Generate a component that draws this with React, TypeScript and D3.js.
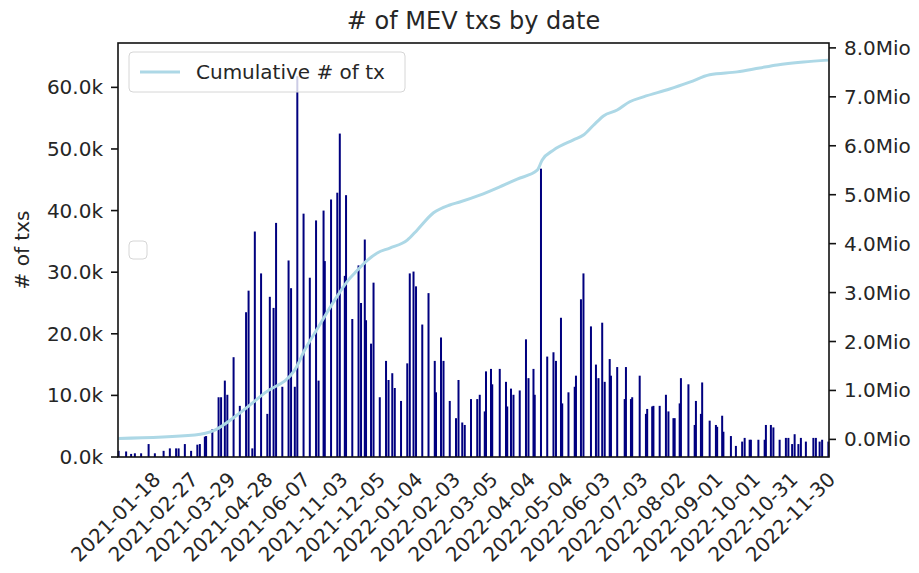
import React from "react";
import * as d3 from "d3";

// visible daily samples: position in the series (day #) and number of MEV txs
const sampleDay = [
  0, 6, 10, 13, 18, 24, 29, 36, 41, 46, 48, 53, 58, 63, 65, 69, 70, 75, 80, 82,
  85, 87, 92, 97, 102, 104, 107, 109, 114, 119, 121, 124, 126, 131, 136, 138, 141, 143, 148, 153,
  158, 160, 164, 165, 170, 175, 177, 181, 182, 187,
  192, 194, 197, 198, 202, 204, 209, 214, 216, 219, 221, 226, 231, 233, 236, 238, 243, 248, 253, 254,
  258, 260, 265, 270, 272, 275, 277, 282, 287, 289, 293, 294, 298, 299, 305, 310, 311, 314, 316, 321,
  326, 328, 332, 333, 338, 343, 348, 350, 354, 355, 360,
  365, 366, 370, 372, 378, 382, 384, 387, 389, 393, 394, 399, 405, 406, 410, 411, 417, 422, 423, 427,
  428, 433, 438, 440, 444, 445, 449, 450, 456, 461, 462, 466, 467, 473, 478, 479, 483, 484, 490, 494,
  499, 501, 505, 506, 512, 517, 518, 522, 524, 529, 534, 536, 539, 541, 544, 546, 550, 556, 558, 561,
  563, 568,
];

const txCount = [
  1000, 900, 500, 600, 600, 2100, 600, 1000, 1400, 1400, 1400, 2100, 1000, 2000, 2100, 3300, 3400, 4500, 9700, 9700,
  12400, 10100, 16200, 8300, 23500, 27000, 1400, 36600, 29800, 7000, 26000, 24200, 38000, 11400, 31900, 27400, 11400, 61800, 39500, 29100,
  38400, 12400, 40000, 31800, 41800, 42900, 52500, 29400, 42500, 22400,
  31100, 25000, 35300, 22200, 18400, 28300, 9700, 15600, 12500, 13600, 11200, 9100, 15200, 29800, 30100, 27700, 21500, 26600, 15600, 10500,
  19400, 15600, 9100, 6300, 12500, 5600, 5200, 9400, 9400, 10100, 7400, 13900, 14300, 11800, 14300, 12200, 8200, 11100, 10100, 10800,
  19100, 12800, 14300, 10100, 46800, 16300, 17000, 15600, 22600, 8700, 10500,
  11400, 13200, 25600, 29800, 21200, 15000, 12800, 21800, 12200, 15900, 13200, 14600, 9400, 14600, 9400, 9700, 13200, 7000, 7800, 8200,
  8300, 8300, 10100, 7400, 6300, 6300, 8700, 12800, 11800, 5200, 9100, 7000, 12100, 5900, 5200, 4900, 6700, 4100, 3400, 1800,
  2500, 3100, 2800, 2800, 2800, 2800, 5200, 5200, 4800, 2800, 3100, 3100, 2100, 3700, 2100, 3100, 2500, 3100, 3100, 2500,
  2800, 2500,
];

// cumulative # of tx (millions)
const cumDay = [
  0, 61, 77, 97, 117, 141, 149, 160, 173, 184, 189, 199, 207, 217, 231, 239, 252, 265, 273, 289,
  305, 319, 335, 339, 348, 364, 372, 380, 388, 399, 409, 420, 441, 457, 473, 495, 513, 527, 548, 568,
];
const cumTxMio = [
  0.02, 0.09, 0.19, 0.54, 0.95, 1.42, 1.83, 2.3, 2.85, 3.26, 3.4, 3.66, 3.81, 3.91, 4.07, 4.28, 4.63, 4.79, 4.85, 4.99,
  5.16, 5.32, 5.5, 5.71, 5.91, 6.12, 6.22, 6.42, 6.61, 6.73, 6.9, 7.0, 7.16, 7.3, 7.45, 7.51, 7.59, 7.65, 7.71, 7.75,
];

const nDays = 569;
const tickLabels = [
  "2021-01-18", "2021-02-27", "2021-03-29", "2021-04-28", "2021-06-07", "2021-11-03", "2021-12-05",
  "2022-01-04", "2022-02-03", "2022-03-05", "2022-04-04", "2022-05-04", "2022-06-03", "2022-07-03",
  "2022-08-02", "2022-09-01", "2022-10-01", "2022-10-31", "2022-11-30",
];
const tickEvery = 30;
const leftTicks = [0, 10000, 20000, 30000, 40000, 50000, 60000];
const rightTicks = [0, 1, 2, 3, 4, 5, 6, 7, 8];

const W = 919;
const H = 573;
const margin = { top: 43, right: 90, bottom: 116, left: 118 };
const FONT = "DejaVu Sans";
const TXT = "#262626";

export default function App() {
  const x0 = margin.left;
  const x1 = W - margin.right;
  const y0 = H - margin.bottom;
  const y1 = margin.top;

  const x = d3.scaleLinear().domain([-0.5, nDays - 0.5]).range([x0, x1]);
  const yL = d3.scaleLinear().domain([0, 67200]).range([y0, y1]);
  const yR = d3.scaleLinear().domain([-0.36, 8.1]).range([y0, y1]);

  const line = d3
    .line<number>()
    .x((_, i) => x(cumDay[i]))
    .y((d) => yR(d))
    .curve(d3.curveMonotoneX);

  const fmtK = (v: number) => (v / 1000).toFixed(1) + "k";
  const fmtM = (v: number) => v.toFixed(1) + "Mio";

  // rotated tick labels: centre of their box below the axis
  const labelCy = y0 + 60;

  return (
    <svg
      width={W}
      height={H}
      style={{ position: "absolute", left: 0, top: 0, background: "white" }}
      fontFamily={FONT}
    >
      <text x={(x0 + x1) / 2} y={29} textAnchor="middle" fontSize={24} fill={TXT}>
        # of MEV txs by date
      </text>

      {/* bars */}
      {sampleDay.map((d, i) => (
        <rect
          key={i}
          x={x(d) - 1}
          y={yL(txCount[i])}
          width={2}
          height={y0 - yL(txCount[i])}
          fill="#00007f"
        />
      ))}

      {/* empty legend of the bar axis */}
      <rect x={129} y={(y0 + y1) / 2 - 9} width={18} height={18} rx={4}
        fill="white" fillOpacity={0.8} stroke="#d6d6d6" />

      {/* cumulative line */}
      <path d={line(cumTxMio) ?? ""} fill="none" stroke="#add8e6" strokeWidth={3} strokeLinejoin="round" />

      {/* frame */}
      <rect x={x0} y={y1} width={x1 - x0} height={y0 - y1} fill="none" stroke="#111" strokeWidth={1.6} />

      {/* left axis */}
      {leftTicks.map((t) => (
        <g key={t}>
          <line x1={x0 - 7} x2={x0} y1={yL(t)} y2={yL(t)} stroke="#111" strokeWidth={1.6} />
          <text x={x0 - 15} y={yL(t)} textAnchor="end" dominantBaseline="central" fontSize={20} fill={TXT}>
            {fmtK(t)}
          </text>
        </g>
      ))}
      <text
        transform={`translate(22, ${(y0 + y1) / 2}) rotate(-90)`}
        textAnchor="middle"
        dominantBaseline="central"
        fontSize={20}
        fill={TXT}
      >
        # of txs
      </text>

      {/* right axis */}
      {rightTicks.map((t) => (
        <g key={t}>
          <line x1={x1} x2={x1 + 7} y1={yR(t)} y2={yR(t)} stroke="#111" strokeWidth={1.6} />
          <text x={x1 + 15} y={yR(t)} dominantBaseline="central" fontSize={20} fill={TXT}>
            {fmtM(t)}
          </text>
        </g>
      ))}

      {/* x tick labels */}
      {tickLabels.map((lab, i) => {
        const tx = x(i * tickEvery) - 3;
        return (
          <text
            key={lab}
            x={tx}
            y={labelCy}
            textAnchor="middle"
            dominantBaseline="central"
            fontSize={20}
            fill={TXT}
            transform={`rotate(-45, ${tx}, ${labelCy})`}
          >
            {lab}
          </text>
        );
      })}

      {/* legend */}
      <rect x={129} y={52} width={276} height={40} rx={4} fill="white" fillOpacity={0.8} stroke="#d6d6d6" />
      <line x1={140} x2={180} y1={72} y2={72} stroke="#add8e6" strokeWidth={3} />
      <text x={196} y={72} dominantBaseline="central" fontSize={20} fill={TXT}>
        Cumulative # of tx
      </text>
    </svg>
  );
}
